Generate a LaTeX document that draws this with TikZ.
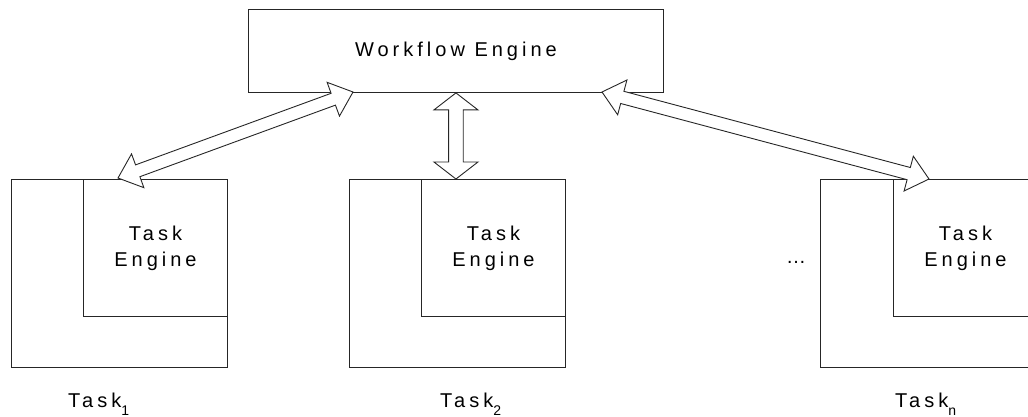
\documentclass[tikz,border=0pt]{standalone}
\usepackage{fontspec}
\setmainfont{Liberation Sans}[LetterSpace=20]
\usetikzlibrary{calc}
\tikzset{
  linecol/.style={draw=black!85, line width=0.9pt},
  boxbase/.style={linecol, inner sep=0pt, anchor=north west,
    font=\fontsize{20}{26}\selectfont, align=center},
  wfbox/.style={boxbase, minimum width=415pt, minimum height=83pt},
  outerbox/.style={boxbase, minimum width=216pt, minimum height=188pt},
  innerbox/.style={boxbase, minimum width=144pt, minimum height=137pt},
  tasklabel/.style={anchor=base west, inner sep=0pt, font=\fontsize{20}{24}\selectfont},
  hollowarr/.style={linecol, fill=white, line join=miter},
}
\newcommand{\subidx}[1]{\raisebox{-8pt}{\fontsize{14}{14}\selectfont #1}}
\newcommand{\hollowarrow}[5]{%
  \coordinate (ha-a) at ($(#1)!#5!(#2)$);
  \coordinate (ha-b) at ($(#2)!#5!(#1)$);
  \draw[hollowarr] (#1)
   -- ($(ha-a)!#4!90:(#2)$) -- ($(ha-a)!#3!90:(#2)$)
   -- ($(ha-b)!#3!-90:(#1)$) -- ($(ha-b)!#4!-90:(#1)$)
   -- (#2)
   -- ($(ha-b)!#4!90:(#1)$) -- ($(ha-b)!#3!90:(#1)$)
   -- ($(ha-a)!#3!-90:(#2)$) -- ($(ha-a)!#4!-90:(#2)$)
   -- cycle;}
\begin{document}
\begin{tikzpicture}[x=1pt, y=-1pt]
  \useasboundingbox (0,0) rectangle (1028,416);
  \clip (0,0) rectangle (1028,416);

  % workflow engine
  \node[wfbox] (wf) at (248,9) {Workflow Engine};

  % task boxes
  \node[outerbox] (t1) at (11,179) {};
  \node[innerbox] (e1) at (83,179) {Task\\Engine};
  \node[outerbox] (t2) at (349,179) {};
  \node[innerbox] (e2) at (421,179) {Task\\Engine};
  \node[outerbox] (tn) at (820,179) {};
  \node[innerbox] (en) at (893,179) {Task\\Engine};

  % labels
  \node[tasklabel] (l1) at (68,407) {Task\subidx{1}};
  \node[tasklabel] (l2) at (440,407) {Task\subidx{2}};
  \node[tasklabel] (ln) at (895,407) {Task\subidx{n}};
  \node[font=\fontsize{20}{24}\selectfont, inner sep=0pt] (dots) at (796,262) {…};

  % arrow end points
  \coordinate (a1s) at (118,178);
  \coordinate (a1e) at (353,92);
  \coordinate (a2s) at (wf.south);
  \coordinate (a2e) at (wf.south |- e2.north);
  \coordinate (a3s) at (602,92);
  \coordinate (a3e) at (929,179);

  \hollowarrow{a1s}{a1e}{6.3pt}{18pt}{21pt}
  \hollowarrow{a2s}{a2e}{7.3pt}{22pt}{17pt}
  \hollowarrow{a3s}{a3e}{6.3pt}{18pt}{21pt}
\end{tikzpicture}
\end{document}
